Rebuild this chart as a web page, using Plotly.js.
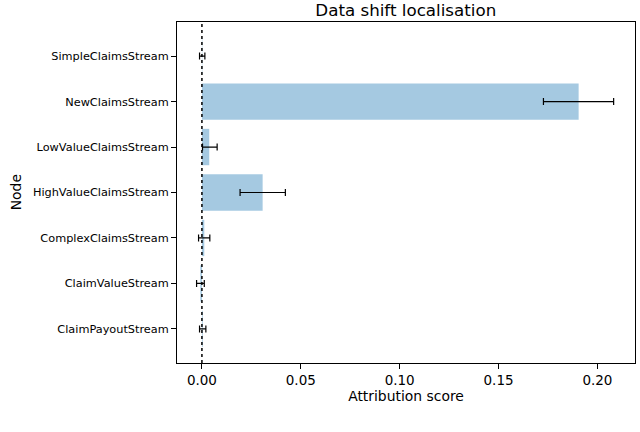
<!DOCTYPE html>
<html>
<head>
<meta charset="utf-8">
<script src="https://cdn.plot.ly/plotly-3.0.1.min.js"></script>
<style>html,body{margin:0;padding:0;background:#fff;}#chart{width:640px;height:432px;}</style>
</head>
<body>
<div id="chart"></div>
<script>
var nodes = ["ClaimPayoutStream","ClaimValueStream","ComplexClaimsStream","HighValueClaimsStream","LowValueClaimsStream","NewClaimsStream","SimpleClaimsStream"];
var scores = [0.0004, -0.0008, 0.0012, 0.0307, 0.0037, 0.1905, 0.0002];
var errLow = [0.0016, 0.0019, 0.0029, 0.0114, 0.0034, 0.0178, 0.0014];
var errHigh = [0.0016, 0.0020, 0.0028, 0.0115, 0.0040, 0.0177, 0.0013];
var xTicks = [0.00, 0.05, 0.10, 0.15, 0.20];
var xTickLabels = ["0.00","0.05","0.10","0.15","0.20"];

var font = "DejaVu Sans, sans-serif";
var trace = {
  type: "bar",
  orientation: "h",
  x: scores,
  y: nodes,
  width: 0.8,
  marker: {color: "rgba(31,119,180,0.4)", line: {width: 0}},
  error_x: {type: "data", symmetric: false, array: errHigh, arrayminus: errLow, color: "#000", thickness: 1.2, width: 3.5},
  hoverinfo: "none"
};
var layout = {
  width: 640, height: 432,
  margin: {l: 177, r: 5, t: 22, b: 69},
  paper_bgcolor: "#fff", plot_bgcolor: "#fff",
  showlegend: false,
  bargap: 0.2,
  title: {text: "Data shift localisation", font: {family: font, size: 16.7, color: "#000"}, x: 0.634, xanchor: "center", y: 0.99, yanchor: "top", pad: {t: 0, b: 0}},
  xaxis: {
    range: [-0.0126, 0.219], tickvals: xTicks, ticktext: xTickLabels,
    showgrid: false, zeroline: false, showline: true, mirror: true, linecolor: "#000", linewidth: 1,
    ticks: "outside", ticklen: 5, tickwidth: 1, tickcolor: "#000",
    tickfont: {family: font, size: 13.5, color: "#000"},
    title: {text: "Attribution score", font: {family: font, size: 13.9, color: "#000"}, standoff: 4}
  },
  yaxis: {
    range: [-0.75, 6.75], type: "category", categoryorder: "array", categoryarray: nodes,
    showgrid: false, zeroline: false, showline: true, mirror: true, linecolor: "#000", linewidth: 1,
    ticks: "outside", ticklen: 5, tickwidth: 1, tickcolor: "#000", ticklabelstandoff: 0,
    tickfont: {family: font, size: 11.3, color: "#000"}
  },
  annotations: [{text: "Node", xref: "paper", yref: "paper", x: -0.352, y: 0.5, xanchor: "center", yanchor: "middle", textangle: -90, showarrow: false, font: {family: font, size: 13.9, color: "#000"}}],
  shapes: [{type: "line", xref: "x", yref: "paper", x0: 0, x1: 0, y0: 0, y1: 1, line: {color: "#000", width: 1.5, dash: "dot"}}]
};
Plotly.newPlot("chart", [trace], layout, {staticPlot: true, displayModeBar: false});
</script>
</body>
</html>
